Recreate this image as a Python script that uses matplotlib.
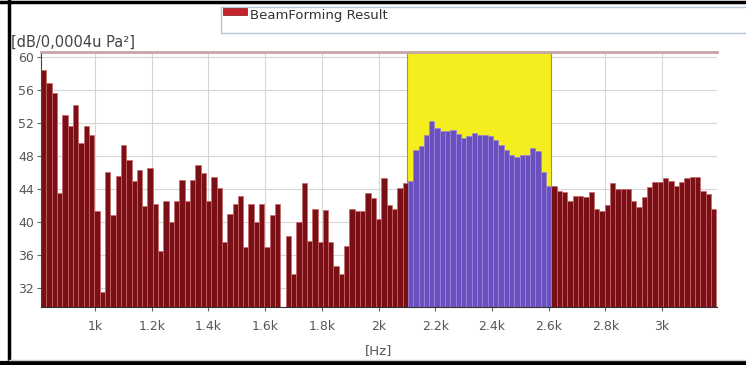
import numpy as np
import matplotlib
matplotlib.use('Agg')
import matplotlib.pyplot as plt
from matplotlib.patches import Rectangle
from matplotlib.lines import Line2D

# spectrum bins (Hz)
f0 = 810.0
bin_hz = 18.75

# levels, dB
left_db = [58.4, 56.8, 55.6, 43.5, 53.0, 51.6, 54.2, 49.6, 51.6, 50.5,
           41.3, 31.5, 46.1, 40.8, 45.6, 49.3, 47.5, 45.0, 46.3, 41.9,
           46.5, 42.2, 36.5, 42.6, 40.0, 42.6, 45.1, 42.6, 45.1, 46.9,
           45.9, 42.6, 45.5, 44.1, 37.6, 41.0, 42.2, 43.1, 37.0, 42.2,
           40.0, 42.2, 37.0, 40.8, 42.2, 29.0, 38.3, 33.7, 40.0, 44.7,
           37.7, 41.6, 37.6, 41.4, 37.6, 34.7, 33.7, 37.1, 41.6, 41.3,
           41.3, 43.5, 42.9, 40.4, 45.3, 42.0, 41.6, 44.1, 44.7]
band_db = [45.0, 48.7, 49.2, 50.5, 52.2, 51.4, 51.0, 51.0, 51.1, 50.7,
           50.2, 50.4, 50.8, 50.5, 50.6, 50.4, 49.9, 49.3, 48.7, 48.1,
           47.9, 48.1, 48.1, 49.0, 48.6, 46.1, 44.4]
right_db = [44.4, 43.8, 43.6, 42.5, 43.2, 43.2, 43.0, 43.6, 41.6, 41.3,
            42.0, 44.7, 44.0, 44.0, 44.0, 42.6, 41.8, 43.0, 44.2, 44.9,
            44.9, 45.3, 45.0, 44.4, 44.9, 45.3, 45.5, 45.5, 43.8, 43.4, 41.6]

band_lo, band_hi = 2100, 2610
xticks = [1000, 1200, 1400, 1600, 1800, 2000, 2200, 2400, 2600, 2800, 3000]
xlabels = ['1k', '1.2k', '1.4k', '1.6k', '1.8k', '2k', '2.2k', '2.4k', '2.6k', '2.8k', '3k']
yticks = [32, 36, 40, 44, 48, 52, 56, 60]

levels = np.array(left_db + band_db + right_db)
freqs = f0 + bin_hz * (np.arange(len(levels)) + 0.5)
n_left = len(left_db)
n_band = len(band_db)

fig = plt.figure(figsize=(7.46, 3.65), dpi=100)
ax = fig.add_axes([41/746, 58/365, 676/746, 255/365])

ax.axvspan(band_lo, band_hi, color='#f4ee1e', ec='#a89c10', lw=0.8, zorder=1)

red = slice(0, n_left)
blue = slice(n_left, n_left + n_band)
red2 = slice(n_left + n_band, None)
for s in (red, red2):
    ax.bar(freqs[s], levels[s], width=bin_hz, color='#7a1015',
           edgecolor='#c9666a', linewidth=0.5, zorder=2)
ax.bar(freqs[blue], levels[blue], width=bin_hz, color='#6a50bf',
       edgecolor='#9a84dc', linewidth=0.5, zorder=2)

ax.set_xlim(809.5, 3194)
ax.set_ylim(29.7, 60.6)
ax.set_xticks(xticks)
ax.set_xticklabels(xlabels)
ax.set_yticks(yticks)
ax.grid(True, color='#d6d6d6', lw=0.8, zorder=0)
ax.set_axisbelow(True)
ax.tick_params(colors='#666666', labelcolor='#555555', labelsize=9, length=3, width=0.8)
ax.tick_params(axis='x', pad=6)
ax.tick_params(axis='y', pad=2)

ax.spines['right'].set_visible(False)
ax.spines['left'].set_color('#444444')
ax.spines['bottom'].set_color('#333333')
ax.spines['top'].set_color('#c8a4a8')
ax.spines['top'].set_linewidth(2)

ax.set_xlabel('[Hz]', fontsize=9.5, color='#555555', labelpad=8)
fig.text(11/746, 1 - 42/365, '[dB/0,0004u Pa²]', fontsize=10.5, color='#444444', va='center')

# legend box at top
fig.add_artist(Rectangle((221/746, 1 - 33/365), 530/746, 26/365, transform=fig.transFigure,
                         facecolor='white', edgecolor='#b4c4d6', lw=1))
fig.add_artist(Rectangle((223/746, 1 - 15/365), 24/746, 7/365, transform=fig.transFigure,
                         facecolor='#c4242a', edgecolor='#8a1418', lw=0.5))
fig.text(250/746, 1 - 15/365, 'BeamForming Result', fontsize=9.5, color='#333333', va='center')

# outer frame
fig.add_artist(Line2D([9/746, 9/746], [0, 1], transform=fig.transFigure, color='black', lw=2.5))
fig.add_artist(Line2D([0, 1], [1 - 1.5/365, 1 - 1.5/365], transform=fig.transFigure, color='black', lw=2.5))
fig.add_artist(Line2D([0, 1], [2/365, 2/365], transform=fig.transFigure, color='black', lw=3))
fig.add_artist(Line2D([9/746, 1], [5.5/365, 5.5/365], transform=fig.transFigure, color='#c8c8c8', lw=1))

fig.savefig('out.png', dpi=100)
